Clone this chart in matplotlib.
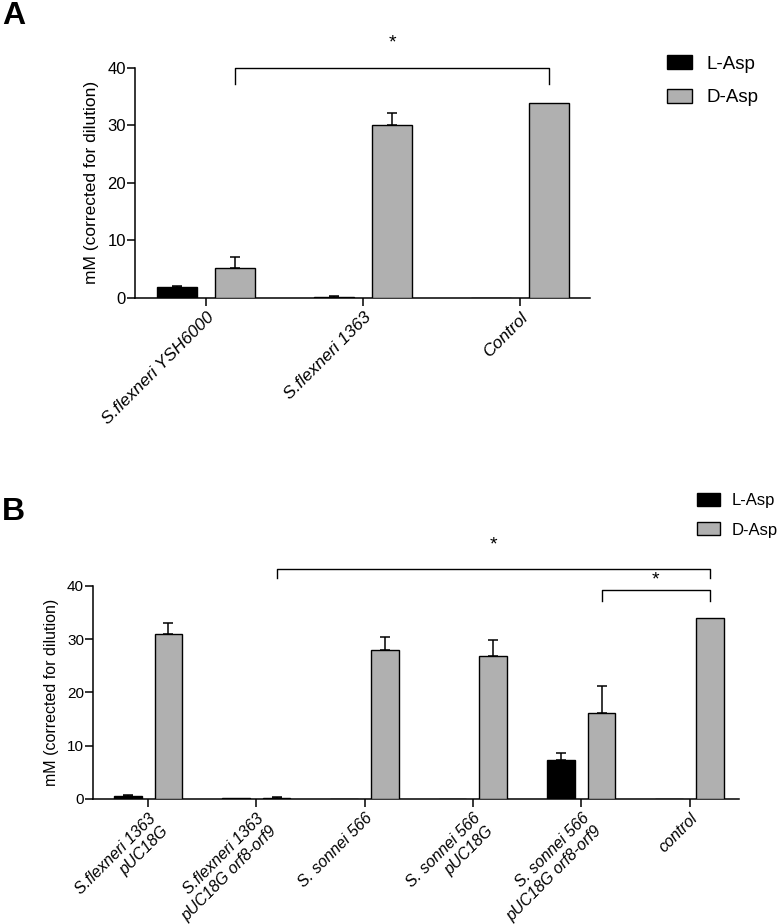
import matplotlib
matplotlib.use("Agg")
import matplotlib.pyplot as plt
import numpy as np

plt.rcParams['font.family'] = ['Liberation Sans', 'DejaVu Sans']

# panel A data
strains_a = ['S.flexneri YSH6000', 'S.flexneri 1363', 'Control']
l_asp_a = [1.8, 0.2, 0.0]
l_err_a = [0.3, 0.15, 0.0]
d_asp_a = [5.1, 30.1, 33.9]
d_err_a = [1.9, 2.1, 0.0]

# panel B data
strains_b = ['S.flexneri 1363\npUC18G', 'S.flexneri 1363\npUC18G orf8-orf9',
             'S. sonnei 566', 'S. sonnei 566\npUC18G',
             'S. sonnei 566\npUC18G orf8-orf9', 'control']
l_asp_b = [0.5, 0.1, 0.0, 0.0, 7.4, 0.0]
l_err_b = [0.3, 0.0, 0.0, 0.0, 1.2, 0.0]
d_asp_b = [30.9, 0.2, 27.9, 26.9, 16.1, 33.9]
d_err_b = [2.1, 0.2, 2.4, 3.0, 5.1, 0.0]

series_names = ['L-Asp', 'D-Asp']
colors = ['#000000', '#b0b0b0']

W, H = 780, 924
fig = plt.figure(figsize=(7.8, 9.24), dpi=100)


def make_axes(l, r, top, bottom):
    return fig.add_axes([l / W, 1 - bottom / H, (r - l) / W, (bottom - top) / H])


def draw_panel(ax, labels, lv, le, dv, de, xlim, tick_fs, lab_fs, xl_fs):
    x = np.arange(len(labels))
    off, bw = 0.1875, 0.255
    bars = []
    for vals, errs, c, sign in [(lv, le, colors[0], -1), (dv, de, colors[1], 1)]:
        pos = x + sign * off
        b = ax.bar(pos, vals, bw, color=c, edgecolor='black', linewidth=1.0, zorder=3)
        bars.append(b)
        for p, v, e in zip(pos, vals, errs):
            if e > 0:
                ax.errorbar(p, v, yerr=[[0], [e]], color='black', elinewidth=1.1,
                            capsize=3.5, capthick=1.1, zorder=2)
    ax.set_xlim(*xlim)
    ax.set_ylim(0, 40)
    ax.set_yticks([0, 10, 20, 30, 40])
    ax.set_xticks(x)
    ax.set_xticklabels(labels, rotation=45, ha='right', va='top', rotation_mode='anchor',
                       style='italic', fontsize=xl_fs, multialignment='right',
                       linespacing=1.25)
    ax.spines['top'].set_visible(False)
    ax.spines['right'].set_visible(False)
    for s in ['left', 'bottom']:
        ax.spines[s].set_linewidth(1.1)
    ax.tick_params(axis='both', direction='out', length=5.5, width=1.1)
    ax.tick_params(axis='y', labelsize=tick_fs, pad=1)
    ax.tick_params(axis='x', pad=3)
    ax.set_ylabel('mM (corrected for dilution)', fontsize=lab_fs, labelpad=6)
    return bars


def bracket(ax, x0, x1, y, tip, star_y, fs=14):
    ax.plot([x0, x0, x1, x1], [tip, y, y, tip], color='black', lw=1.0,
            clip_on=False, zorder=4)
    ax.text((x0 + x1) / 2, star_y, '*', ha='center', va='center', fontsize=fs)


# panel A
ax1 = make_axes(135, 590, 67.7, 297.7)
bars_a = draw_panel(ax1, strains_a, l_asp_a, l_err_a, d_asp_a, d_err_a,
                    (-0.452, 2.446), 12, 12.5, 12.5)
bracket(ax1, 0.1875, 2.1875, 40, 37.1, 44.3)
fig.legend(bars_a, series_names, loc='upper left', bbox_to_anchor=(667 / W, 1 - 55 / H),
           frameon=False, fontsize=13.5, handlelength=1.35, handleheight=0.8,
           handletextpad=0.75, labelspacing=0.85, borderpad=0, borderaxespad=0)

# panel B
ax2 = make_axes(93, 739, 585.7, 799)
bars_b = draw_panel(ax2, strains_b, l_asp_b, l_err_b, d_asp_b, d_err_b,
                    (-0.508, 5.457), 11, 11.5, 11.5)
bracket(ax2, 1.1875, 5.1875, 43.2, 41.4, 47.6)
bracket(ax2, 4.1875, 5.1875, 39.2, 37.2, 41.0)
fig.legend(bars_b, series_names, loc='upper left', bbox_to_anchor=(697 / W, 1 - 493 / H),
           frameon=False, fontsize=12, handlelength=1.35, handleheight=0.8,
           handletextpad=0.75, labelspacing=0.85, borderpad=0, borderaxespad=0)

fig.text(2 / W, 1 - 1 / H, 'A', fontsize=23, fontweight='bold', ha='left', va='top')
fig.text(2 / W, 1 - 497 / H, 'B', fontsize=23, fontweight='bold', ha='left', va='top')

fig.savefig('out.png', dpi=100)
